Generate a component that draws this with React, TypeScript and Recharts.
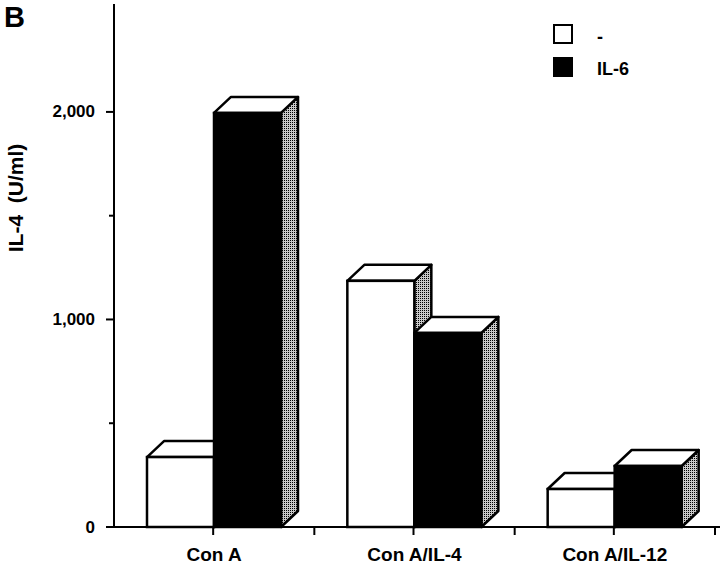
import { Bar, BarChart, XAxis, YAxis } from "recharts";

const categories = ["Con A", "Con A/IL-4", "Con A/IL-12"];
const controlValues = [337, 1186, 183];
const il6Values = [1995, 935, 294];
const yTicks = [0, 500, 1000, 1500, 2000];
const majorTicks = [0, 1000, 2000];

const data = categories.map((name, i) => ({
  name,
  control: controlValues[i],
  il6: il6Values[i],
}));

const FONT = "'Liberation Sans', Arial, Helvetica, sans-serif";
const DX = 17;
const DY = 16;

function Bar3D(props: any) {
  const { x, y, width, height, fill } = props;
  if (width == null || height == null || height <= 0) return null;
  const sw = 2.5;
  return (
    <g>
      <defs>
        <pattern id="side-shade" width="2" height="2" patternUnits="userSpaceOnUse">
          <rect width="2" height="2" fill="#c8c8c8" />
          <rect width="1" height="1" fill="#000" />
        </pattern>
      </defs>
      <polygon
        points={`${x + width},${y} ${x + width + DX},${y - DY} ${x + width + DX},${y + height - DY} ${x + width},${y + height}`}
        fill="url(#side-shade)"
        stroke="#000"
        strokeWidth={sw}
        strokeLinejoin="round"
      />
      <polygon
        points={`${x},${y} ${x + DX},${y - DY} ${x + width + DX},${y - DY} ${x + width},${y}`}
        fill="#fff"
        stroke="#000"
        strokeWidth={sw}
        strokeLinejoin="round"
      />
      <rect x={x} y={y} width={width} height={height} fill={fill} stroke="#000" strokeWidth={sw} />
    </g>
  );
}

function YTick(props: any) {
  const { x, y, payload } = props;
  const major = majorTicks.includes(payload.value);
  return (
    <g>
      <line x1={x - (major ? 8 : 5)} x2={x} y1={y} y2={y} stroke="#000" strokeWidth={2} />
      {major && (
        <text
          x={x - 19}
          y={y}
          textAnchor="end"
          dominantBaseline="central"
          fontFamily={FONT}
          fontWeight="bold"
          fontSize={17}
          fill="#000"
        >
          {payload.value.toLocaleString("en-US")}
        </text>
      )}
    </g>
  );
}

function XTick(props: any) {
  const { x, y, payload } = props;
  const half = payload.offset ?? 100;
  return (
    <g>
      <line x1={x - 1} x2={x - 1} y1={y} y2={y + 8} stroke="#000" strokeWidth={2} />
      <line x1={x + half} x2={x + half} y1={y} y2={y + 8} stroke="#000" strokeWidth={2} />
      <text
        x={x}
        y={y + 34}
        textAnchor="middle"
        fontFamily={FONT}
        fontWeight="bold"
        fontSize={19}
        fill="#000"
      >
        {payload.value}
      </text>
    </g>
  );
}

export default function App() {
  return (
    <div style={{ position: "absolute", left: 0, top: 0, width: 720, height: 567, background: "#fff" }}>
      <BarChart
        width={720}
        height={567}
        data={data}
        margin={{ top: 4, right: 0, bottom: 0, left: 0 }}
        barSize={67}
        barGap={0}
      >
        <XAxis
          dataKey="name"
          height={40}
          padding={{ left: 0, right: 5 }}
          tickLine={false}
          tickSize={0}
          tickMargin={0}
          tick={<XTick />}
          axisLine={{ stroke: "#000", strokeWidth: 2 }}
          interval={0}
        />
        <YAxis
          width={114}
          domain={[0, 2520]}
          ticks={yTicks}
          tickLine={false}
          tickSize={0}
          tickMargin={0}
          tick={<YTick />}
          axisLine={{ stroke: "#000", strokeWidth: 2 }}
          interval={0}
        />
        <Bar dataKey="control" fill="#fff" shape={<Bar3D />} isAnimationActive={false} />
        <Bar dataKey="il6" fill="#000" shape={<Bar3D />} isAnimationActive={false} />
      </BarChart>
      <svg
        width={720}
        height={567}
        style={{ position: "absolute", left: 0, top: 0, pointerEvents: "none" }}
      >
        <text x={4} y={27} fontFamily={FONT} fontWeight="bold" fontSize={29} fill="#000">
          B
        </text>
        <text
          x={23}
          y={198}
          transform="rotate(-90, 23, 198)"
          textAnchor="middle"
          fontFamily={FONT}
          fontWeight="bold"
          fontSize={21}
          fill="#000"
          style={{ whiteSpace: "pre" }}
        >
          {"IL-4  (U/ml)"}
        </text>
        <rect x={554} y={25} width={18} height={18} fill="#fff" stroke="#000" strokeWidth={2} />
        <rect x={553} y={57} width={20} height={20} fill="#000" />
        <text x={597} y={43} fontFamily={FONT} fontWeight="bold" fontSize={18} fill="#000">
          -
        </text>
        <text x={597} y={75} fontFamily={FONT} fontWeight="bold" fontSize={18} fill="#000">
          IL-6
        </text>
      </svg>
    </div>
  );
}
